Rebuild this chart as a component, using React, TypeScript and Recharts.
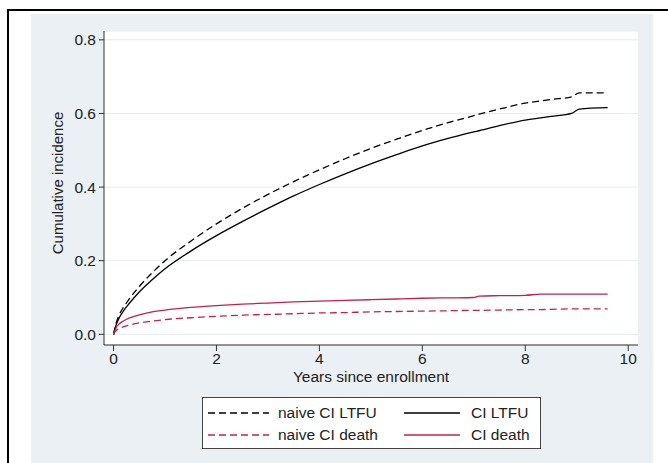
import { LineChart, Line, XAxis, YAxis, CartesianGrid, Label } from "recharts";

// years since enrollment, shared by all four curves
const years = [
  0, 0.05, 0.1, 0.2, 0.3, 0.5, 0.75, 1, 1.5, 2, 2.5, 3, 3.5, 4, 4.5, 5, 5.5, 6,
  6.5, 7, 7.1, 7.5, 8, 8.3, 8.5, 8.9, 9.05, 9.6,
];
const naiveLtfu = [
  0, 0.03, 0.05, 0.075, 0.095, 0.13, 0.167, 0.2, 0.253, 0.3, 0.342, 0.38,
  0.415, 0.447, 0.477, 0.505, 0.53, 0.554, 0.575, 0.594, 0.598, 0.612, 0.628,
  0.634, 0.638, 0.645, 0.656, 0.656,
];
const ciLtfu = [
  0, 0.025, 0.042, 0.065, 0.083, 0.115, 0.148, 0.178, 0.226, 0.268, 0.306,
  0.342, 0.376, 0.407, 0.436, 0.463, 0.488, 0.512, 0.532, 0.55, 0.553, 0.567,
  0.582, 0.588, 0.592, 0.6, 0.612, 0.616,
];
const naiveDeath = [
  0, 0.01, 0.015, 0.021, 0.025, 0.031, 0.036, 0.04, 0.045, 0.049, 0.052, 0.054,
  0.056, 0.058, 0.059, 0.061, 0.062, 0.063, 0.064, 0.065, 0.065, 0.066, 0.067,
  0.067, 0.068, 0.069, 0.069, 0.069,
];
const ciDeath = [
  0, 0.018, 0.027, 0.037, 0.044, 0.053, 0.061, 0.066, 0.073, 0.078, 0.082,
  0.085, 0.088, 0.09, 0.092, 0.094, 0.096, 0.098, 0.099, 0.1, 0.104, 0.105,
  0.106, 0.109, 0.109, 0.109, 0.109, 0.109,
];

const xTicks = [0, 2, 4, 6, 8, 10];
const yTicks = [0, 0.2, 0.4, 0.6, 0.8];

const RED = "#c4214f";
const DASH = "7 4";

const series = [
  { key: "naiveLtfu", name: "naive CI LTFU", color: "#000", dash: DASH },
  { key: "ciLtfu", name: "CI LTFU", color: "#000", dash: undefined },
  { key: "naiveDeath", name: "naive CI death", color: RED, dash: DASH },
  { key: "ciDeath", name: "CI death", color: RED, dash: undefined },
];

const rows = years.map((t, i) => ({
  t,
  naiveLtfu: naiveLtfu[i],
  ciLtfu: ciLtfu[i],
  naiveDeath: naiveDeath[i],
  ciDeath: ciDeath[i],
}));

const FONT = "'Liberation Sans', Arial, sans-serif";
const tickStyle = { fontSize: 15.5, fill: "#222", fontFamily: FONT };

function LegendBox() {
  return (
    <div
      style={{
        position: "absolute",
        left: 202,
        top: 397,
        width: 337,
        height: 50,
        background: "#fff",
        border: "1px solid #444",
        fontFamily: FONT,
        fontSize: 15.5,
        color: "#222",
      }}
    >
      {series.map((s, i) => {
        const col = i % 2;
        const row = Math.floor(i / 2);
        const lineLeft = col === 0 ? 5 : 201;
        const lineW = col === 0 ? 61 : 56;
        const textLeft = col === 0 ? 75 : 268;
        const y = row === 0 ? 15 : 37;
        return (
          <div key={s.key}>
            <svg
              width={lineW}
              height={4}
              style={{ position: "absolute", left: lineLeft, top: y - 2 }}
            >
              <line
                x1={0}
                y1={2}
                x2={lineW}
                y2={2}
                stroke={s.color}
                strokeWidth={1.3}
                strokeDasharray={s.dash}
              />
            </svg>
            <span
              style={{
                position: "absolute",
                left: textLeft,
                top: y - 10,
                lineHeight: "20px",
                whiteSpace: "nowrap",
              }}
            >
              {s.name}
            </span>
          </div>
        );
      })}
    </div>
  );
}

export default function App() {
  return (
    <div
      style={{
        position: "absolute",
        left: 0,
        top: 0,
        width: 668,
        height: 463,
        background: "#fff",
        overflow: "hidden",
        fontFamily: FONT,
      }}
    >
      {/* outer frame */}
      <div
        style={{
          position: "absolute",
          boxSizing: "border-box",
          left: 7,
          top: 9,
          width: 661,
          height: 454,
          borderTop: "2px solid #000",
          borderLeft: "2px solid #000",
        }}
      />
      {/* graph region */}
      <div
        style={{
          position: "absolute",
          left: 31,
          top: 14,
          width: 622,
          height: 449,
          background: "#eaf0f3",
        }}
      />
      <div style={{ position: "absolute", left: 0, top: 0 }}>
        <LineChart
          width={668}
          height={463}
          data={rows}
          margin={{ top: 31, right: 30, bottom: 92, left: 44 }}
        >
          <CartesianGrid
            horizontal
            vertical={false}
            fill="#fff"
            stroke="#e6ecef"
            strokeWidth={1}
          />
          <XAxis
            dataKey="t"
            type="number"
            domain={[-0.185, 10.19]}
            ticks={xTicks}
            interval={0}
            tick={tickStyle}
            tickSize={6}
            tickMargin={2}
            height={26}
            axisLine={{ stroke: "#333" }}
            tickLine={{ stroke: "#333" }}
          >
            <Label
              value="Years since enrollment"
              position="bottom"
              offset={0}
              style={{ fontSize: 15.5, fill: "#222", fontFamily: FONT }}
            />
          </XAxis>
          <YAxis
            type="number"
            domain={[-0.029, 0.824]}
            ticks={yTicks}
            interval={0}
            tick={tickStyle}
            tickFormatter={(v: number) => v.toFixed(1)}
            tickSize={5}
            tickMargin={3}
            width={60}
            axisLine={{ stroke: "#333" }}
            tickLine={{ stroke: "#333" }}
          >
            <Label
              content={() => (
                <text
                  x={57}
                  y={183}
                  transform="rotate(-90 57 183)"
                  textAnchor="middle"
                  dominantBaseline="central"
                  style={{ fontSize: 15, fill: "#222", fontFamily: FONT }}
                >
                  Cumulative incidence
                </text>
              )}
            />
          </YAxis>
          {series.map((s) => (
            <Line
              key={s.key}
              dataKey={s.key}
              name={s.name}
              type="monotone"
              stroke={s.color}
              strokeWidth={1.3}
              strokeDasharray={s.dash}
              dot={false}
              activeDot={false}
              isAnimationActive={false}
            />
          ))}
        </LineChart>
      </div>
      <LegendBox />
    </div>
  );
}
